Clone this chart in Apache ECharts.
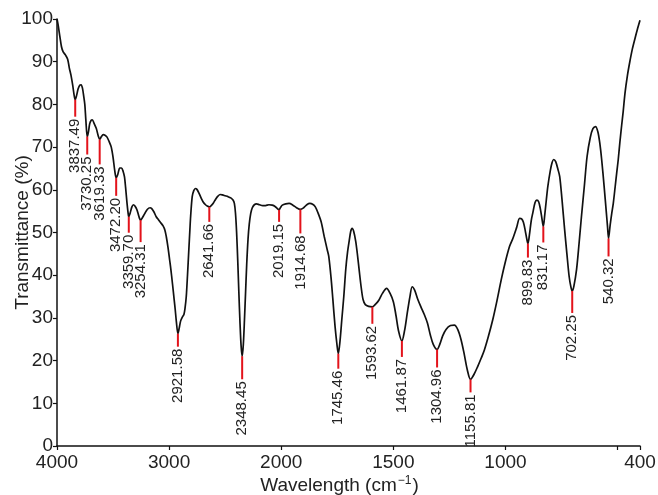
<!DOCTYPE html>
<html>
<head>
<meta charset="utf-8">
<script src="https://cdn.jsdelivr.net/npm/echarts@6/dist/echarts.min.js"></script>
<style>
  html, body { margin: 0; padding: 0; background: #fff; }
  #chart1 { width: 658px; height: 495px; }
</style>
</head>
<body>
<div id="chart1"></div>
<script>
var myChart = echarts.init(document.getElementById('chart1'));

// spectrum (cm-1 / %)
var wavenumbers = [
  4000, 3990, 3975, 3960, 3945, 3925, 3905, 3890, 3875, 3860, 3848, 3837.5, 3826, 3812, 3797, 3785,
  3773, 3762, 3752, 3743, 3730, 3720, 3708, 3695, 3685, 3670, 3650, 3632, 3619.3, 3605, 3588, 3572,
  3555, 3535, 3516, 3500, 3485, 3472.2, 3458, 3440, 3425, 3410, 3398, 3388, 3376, 3366, 3359.7, 3348,
  3332, 3318, 3305, 3288, 3272, 3262, 3254.3, 3240, 3220, 3195, 3170, 3155, 3135, 3115, 3095, 3075,
  3055, 3038, 3025, 3010, 2995, 2985, 2970, 2955, 2945, 2935, 2921.6, 2910, 2897, 2882, 2868, 2858,
  2847, 2836, 2824, 2815, 2808, 2794, 2780, 2765, 2752, 2735, 2715, 2695, 2675, 2660, 2641.7, 2625,
  2605, 2585, 2565, 2545, 2525, 2500, 2475, 2450, 2430, 2418, 2408, 2398, 2388, 2378, 2368, 2358,
  2348.5, 2338, 2328, 2318, 2308, 2296, 2285, 2272, 2258, 2240, 2220, 2195, 2165, 2140, 2110, 2080,
  2055, 2035, 2019.2, 2008, 1995, 1980, 1965, 1948, 1932, 1914.7, 1900, 1886, 1872, 1860, 1848, 1836,
  1822, 1808, 1795, 1788, 1778, 1770, 1760, 1752, 1745.5, 1738, 1730, 1721, 1712, 1704, 1697, 1690,
  1684, 1677, 1668, 1661, 1652, 1643, 1635, 1625, 1610, 1593.6, 1578, 1564, 1548, 1530, 1515, 1500,
  1488, 1477, 1461.9, 1450, 1438, 1426, 1416, 1405, 1392, 1378, 1362, 1348, 1335, 1322, 1305, 1293,
  1280, 1265, 1245, 1228, 1212, 1198, 1185, 1170, 1155.8, 1140, 1124, 1108, 1094, 1076, 1057, 1038,
  1019, 1002, 982, 967, 950, 937, 928, 920, 912, 905, 899.8, 893, 885, 878, 868, 860,
  852, 845, 838, 831.2, 825, 818, 811, 800, 792, 785, 776, 766, 758, 748, 736, 726,
  716, 708, 702.3, 695, 683, 672, 661, 648, 636, 622, 610, 598, 588, 580, 571, 560,
  550, 545, 540.3, 533, 526, 519, 511, 504, 497, 490, 482, 475, 467, 456, 445, 434,
  422, 411, 400
];
var transmittance = [
  100, 98.6, 96, 93.5, 92.3, 91.6, 90.6, 88.5, 86.8, 84.5, 82.3, 81.1, 82, 83.6, 84.5, 84.6,
  83.8, 82, 80, 76.5, 72.4, 73.5, 75.5, 76.3, 76.4, 75.6, 74.4, 72.6, 71.8, 72.4, 72.9, 72.8,
  72.4, 71.3, 70, 67.6, 64.5, 62.8, 63.6, 65.1, 65.1, 64.3, 63, 60.5, 57, 54.6, 53.7, 54.5,
  56, 56.5, 56.2, 55.4, 54, 53.2, 52.9, 53.4, 54.3, 55.4, 55.8, 55.6, 54.8, 53.7, 53, 52.3,
  51.6, 50.6, 49, 46.5, 43.5, 41.5, 38, 34.3, 31.8, 29, 26.3, 27.6, 29.3, 30.2, 30.8, 32.3,
  35, 40, 46, 50.5, 53.8, 58.4, 59.8, 60.3, 60.1, 59.3, 58.1, 57.1, 56.5, 56.2, 56, 56.3,
  56.9, 57.8, 58.5, 58.9, 58.8, 58.6, 58.4, 58.1, 57.6, 56.8, 54.5, 50, 43.5, 36, 29, 23.5,
  21, 23.8, 29.5, 36, 42.5, 48.5, 52, 54.5, 55.8, 56.5, 56.7, 56.5, 56.3, 56.3, 56.5, 56.4,
  56.1, 55.6, 55.3, 55.8, 56.4, 56.7, 56.8, 56.4, 55.8, 55.4, 55.8, 56.5, 56.8, 56.6, 56, 54.6,
  52.5, 49, 46, 44.4, 39.5, 34.5, 28, 24, 21.6, 24.5, 29.5, 35, 41.5, 45.5, 48, 50.3,
  51, 50.3, 48, 45.2, 41, 37, 34.3, 33.1, 32.7, 32.6, 33.3, 34.2, 35.8, 36.9, 35.8, 33.8,
  30.5, 27, 24.6, 27, 31.1, 35, 37.3, 36.5, 34.5, 32.7, 30.8, 28.8, 26, 23.8, 22.6, 23.8,
  25.8, 27.3, 28.2, 28.3, 27.2, 24.9, 21.8, 17.8, 15.6, 16.8, 18.6, 20.6, 22.5, 25.7, 29.5, 34,
  38.9, 42.8, 46.7, 48.6, 51.2, 53.3, 53.2, 52.4, 50.5, 48.5, 47.4, 49.5, 52.8, 54.6, 57, 57.6,
  57.2, 55.7, 53.5, 51.4, 54, 57.5, 60.8, 64.5, 66.4, 67.1, 66.6, 64.8, 63.1, 57.8, 50.6, 45,
  39.7, 37.2, 36.3, 37.4, 41.3, 47.3, 53.8, 61, 67.8, 72.2, 74.3, 74.8, 73.6, 71.2, 67.1, 60.8,
  54.6, 51.5, 48.6, 51.8, 54.5, 56.9, 60.6, 63.9, 67.1, 71, 75, 78.3, 82.6, 86.8, 90.1, 93,
  95.5, 97.7, 99.7
];

// labelled peaks
var peakLabels = ['3837.49', '3730.25', '3619.33', '3472.20', '3359.70', '3254.31', '2921.58',
  '2641.66', '2348.45', '2019.15', '1914.68', '1745.46', '1593.62', '1461.87', '1304.96',
  '1155.81', '899.83', '831.17', '702.25', '540.32'];
// red marker lengths in px
var tickLens = [17, 18, 25, 18, 16, 22, 13, 15, 23, 12, 24, 15, 17, 16, 18, 13, 14, 16, 22, 18];

var xTicks = [4000, 3000, 2000, 1500, 1000, 500, 400];
var xLabels = [4000, 3000, 2000, 1500, 1000, 400];

// axis is compressed 2x above 2000 cm-1
function toAxis(w) {
    return w <= 2000 ? w : 2000 + (w - 2000) / 2;
}
function fromAxis(u) {
    return u <= 2000 ? u : 2000 + (u - 2000) * 2;
}
function interpT(w) {
    for (var i = 0; i < wavenumbers.length - 1; i++) {
        var a = wavenumbers[i], b = wavenumbers[i + 1];
        if (w <= a && w >= b) {
            var t = (a - w) / (a - b);
            return transmittance[i] + t * (transmittance[i + 1] - transmittance[i]);
        }
    }
    return 0;
}

var lineData = [];
for (var i = 0; i < wavenumbers.length; i++) {
    lineData.push([toAxis(wavenumbers[i]), transmittance[i]]);
}
var peakData = [];
for (var i = 0; i < peakLabels.length; i++) {
    var w = parseFloat(peakLabels[i]);
    peakData.push([toAxis(w), interpT(w)]);
}

var fontFam = '"Liberation Sans", Arial, Helvetica, sans-serif';

option = {
    animation: false,
    grid: { left: 57, right: 18, top: 19, bottom: 49, outerBoundsMode: 'none', containLabel: false },
    xAxis: {
        type: 'value',
        min: 400,
        max: 3000,
        inverse: true,
        name: '{t|Wavelength (cm}{s|−1}{t|)}',
        nameLocation: 'middle',
        nameGap: 29,
        nameMoveOverlap: false,
        nameTextStyle: {
            padding: [0, 18, 0, 0],
            rich: {
                t: { fontSize: 19, fontFamily: fontFam, color: '#222', verticalAlign: 'bottom' },
                s: { fontSize: 12, fontFamily: fontFam, color: '#222', verticalAlign: 'top', padding: [0, 1, 8, 1] }
            }
        },
        axisLine: { show: true, onZero: false, lineStyle: { color: '#111', width: 1.5 } },
        axisTick: {
            show: true,
            length: 4,
            customValues: xTicks.map(toAxis),
            lineStyle: { color: '#111', width: 1.2 }
        },
        axisLabel: {
            customValues: xLabels.map(toAxis),
            formatter: function (u) { return String(Math.round(fromAxis(u))); },
            fontSize: 19,
            fontFamily: fontFam,
            color: '#222',
            margin: 7
        },
        splitLine: { show: false }
    },
    yAxis: {
        type: 'value',
        min: 0,
        max: 100,
        interval: 10,
        name: 'Transmittance (%)',
        nameLocation: 'middle',
        nameGap: 25,
        nameMoveOverlap: false,
        nameTextStyle: { fontSize: 19, fontFamily: fontFam, color: '#222' },
        axisLine: { show: true, lineStyle: { color: '#111', width: 1.5 } },
        axisTick: { show: true, length: 4, lineStyle: { color: '#111', width: 1.2 } },
        axisLabel: { fontSize: 19, fontFamily: fontFam, color: '#222', margin: 4 },
        splitLine: { show: false }
    },
    series: [
        {
            type: 'line',
            data: lineData,
            showSymbol: false,
            smooth: 0.3,
            lineStyle: { color: '#111', width: 1.7 },
            z: 2
        },
        {
            type: 'custom',
            data: peakData,
            z: 3,
            renderItem: function (params, api) {
                var p = api.coord([api.value(0), api.value(1)]);
                var len = tickLens[params.dataIndex];
                return {
                    type: 'group',
                    children: [
                        {
                            type: 'line',
                            shape: { x1: p[0], y1: p[1], x2: p[0], y2: p[1] + len },
                            style: { stroke: '#e3131b', lineWidth: 2 }
                        },
                        {
                            type: 'text',
                            x: p[0],
                            y: p[1] + len + 2,
                            rotation: Math.PI / 2,
                            style: {
                                text: peakLabels[params.dataIndex],
                                align: 'right',
                                verticalAlign: 'middle',
                                font: '15px ' + fontFam,
                                fill: '#222'
                            }
                        }
                    ]
                };
            }
        }
    ]
};
myChart.setOption(option);
</script>
</body>
</html>
